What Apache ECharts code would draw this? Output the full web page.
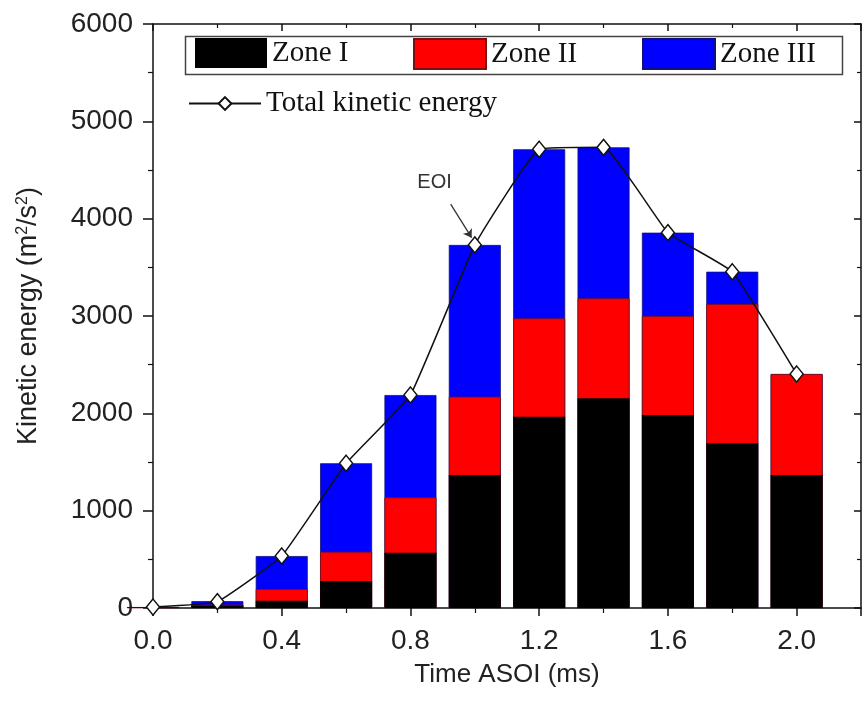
<!DOCTYPE html>
<html>
<head>
<meta charset="utf-8">
<script src="https://cdn.jsdelivr.net/npm/echarts@6/dist/echarts.min.js"></script>
<style>
  html, body { margin: 0; padding: 0; background: #fff; }
  #chart { width: 864px; height: 704px; }
</style>
</head>
<body>
<div id="chart"></div>
<script>
// time after start of injection (ms)
var times = [0.0, 0.2, 0.4, 0.6, 0.8, 1.0, 1.2, 1.4, 1.6, 1.8, 2.0];
// kinetic energy per zone (m2/s2), stacked
var zone1 = [5, 25, 75, 277, 568, 1366, 1965, 2155, 1983, 1692, 1366];
var zone2 = [2, 10, 120, 301, 569, 805, 1011, 1027, 1017, 1431, 1038];
var zone3 = [3, 35, 339, 909, 1051, 1559, 1737, 1551, 856, 332, 0];
var totalKE = [10, 65, 534, 1487, 2188, 3730, 4713, 4733, 3856, 3455, 2404];
var yTicks = [0, 1000, 2000, 3000, 4000, 5000, 6000];

// stack tops: each zone bar is drawn from 0 to its cumulative top, lower zones painted over it
function stackTop(lists) {
  return times.map(function (t, i) {
    var s = 0;
    lists.forEach(function (l) { s += l[i]; });
    return [t, s];
  });
}

var chart = echarts.init(document.getElementById('chart'));
var sans = 'Liberation Sans, Arial, sans-serif';
var serif = 'Liberation Serif, Times New Roman, serif';
var legendText = { fontFamily: serif, fontSize: 29, color: '#111' };

var axisLineStyle = { color: '#111', width: 1.5 };
var tickStyle = { color: '#111', width: 1.5 };
var minorStyle = { color: '#111', width: 1.2 };

var option = {
  animation: false,
  backgroundColor: '#fff',
  grid: { left: 153, top: 24, width: 720, height: 584, containLabel: false },
  legend: [
    { data: ['Zone I'], left: 195, top: 38, itemWidth: 72, itemHeight: 30, icon: 'rect', textStyle: legendText, padding: 0 },
    { data: ['Zone II'], left: 413, top: 38, itemWidth: 72, itemHeight: 30, icon: 'rect', textStyle: legendText, padding: 0 },
    { data: ['Zone III'], left: 642, top: 38, itemWidth: 72, itemHeight: 30, icon: 'rect', textStyle: legendText, padding: 0 },
    { data: ['Total kinetic energy'], left: 188, top: 89, itemWidth: 72, itemHeight: 16, itemGap: 6, textStyle: legendText, padding: 0 }
  ],
  graphic: [{
    type: 'rect',
    left: 183, top: 34,
    shape: { width: 657, height: 38 },
    style: { fill: 'none', stroke: '#444', lineWidth: 1.5 },
    z: -1
  }],
  xAxis: [{
    type: 'value', position: 'bottom',
    min: 0, max: 2.2, interval: 0.4,
    name: 'Time ASOI (ms)', nameLocation: 'middle', nameGap: 54,
    nameTextStyle: { fontFamily: sans, fontSize: 26, color: '#222' },
    axisLine: { show: true, onZero: false, lineStyle: axisLineStyle },
    axisTick: { show: true, inside: false, length: 8, lineStyle: tickStyle },
    minorTick: { show: true, splitNumber: 2, length: 5, lineStyle: minorStyle },
    axisLabel: {
      fontFamily: sans, fontSize: 28, color: '#222', margin: 19,
      formatter: function (v) { return v > 2.1 ? '' : v.toFixed(1); }
    },
    splitLine: { show: false }
  }, {
    type: 'value', position: 'top',
    min: 0, max: 2.2, interval: 0.4,
    axisLine: { show: true, onZero: false, lineStyle: axisLineStyle },
    axisTick: { show: true, inside: true, length: 7, lineStyle: tickStyle },
    minorTick: { show: true, splitNumber: 2, length: 4, lineStyle: minorStyle },
    axisLabel: { show: false },
    splitLine: { show: false }
  }],
  yAxis: [{
    type: 'value', position: 'left',
    min: yTicks[0], max: yTicks[yTicks.length - 1], interval: 1000,
    name: 'Kinetic energy (m{sup|2}/s{sup|2})', nameLocation: 'middle', nameGap: 110, nameRotate: 90,
    nameTextStyle: {
      fontFamily: sans, fontSize: 27, color: '#222',
      rich: { sup: { fontFamily: sans, fontSize: 16, color: '#222', verticalAlign: 'top', padding: [0, 0, 12, 0] } }
    },
    axisLine: { show: true, onZero: false, lineStyle: axisLineStyle },
    axisTick: { show: true, inside: false, length: 10, lineStyle: tickStyle },
    minorTick: { show: true, splitNumber: 2, length: 5, lineStyle: minorStyle },
    axisLabel: { fontFamily: sans, fontSize: 28, color: '#222', margin: 20, formatter: function (v) { return String(v); } },
    splitLine: { show: false }
  }, {
    type: 'value', position: 'right',
    min: yTicks[0], max: yTicks[yTicks.length - 1], interval: 1000,
    axisLine: { show: true, onZero: false, lineStyle: axisLineStyle },
    axisTick: { show: true, inside: true, length: 7, lineStyle: tickStyle },
    minorTick: { show: true, splitNumber: 2, length: 4, lineStyle: minorStyle },
    axisLabel: { show: false },
    splitLine: { show: false }
  }],
  series: [
    { name: 'Zone III', type: 'bar', barWidth: 52, barGap: '-100%', data: stackTop([zone1, zone2, zone3]),
      itemStyle: { color: '#0000ff', borderColor: '#10107a', borderWidth: 0.8 }, z: 2 },
    { name: 'Zone II', type: 'bar', barWidth: 52, barGap: '-100%', data: stackTop([zone1, zone2]),
      itemStyle: { color: '#ff0000', borderColor: '#7a1010', borderWidth: 0.8 }, z: 3 },
    { name: 'Zone I', type: 'bar', barWidth: 52, barGap: '-100%', data: stackTop([zone1]),
      itemStyle: { color: '#000000' }, z: 4 },
    { name: 'Total kinetic energy', type: 'line', data: stackTop([totalKE]), z: 6,
      smooth: 0.1,
      symbol: 'diamond', symbolSize: [13, 16],
      lineStyle: { color: '#111', width: 1.5 },
      itemStyle: { color: '#fff', borderColor: '#111', borderWidth: 1.5 },
      markLine: {
        silent: true, symbol: ['none', 'arrow'], symbolSize: 8,
        lineStyle: { color: '#333', width: 1.3, type: 'solid' },
        label: { show: false },
        data: [[{ coord: [0.925, 4150] }, { coord: [0.99, 3805] }]]
      },
      markPoint: {
        silent: true, symbol: 'circle', symbolSize: 1,
        itemStyle: { color: 'rgba(0,0,0,0)' },
        label: { show: true, position: 'inside', formatter: 'EOI', fontFamily: sans, fontSize: 20, color: '#333' },
        data: [{ coord: [0.875, 4367] }]
      }
    }
  ]
};

chart.setOption(option);
</script>
</body>
</html>
